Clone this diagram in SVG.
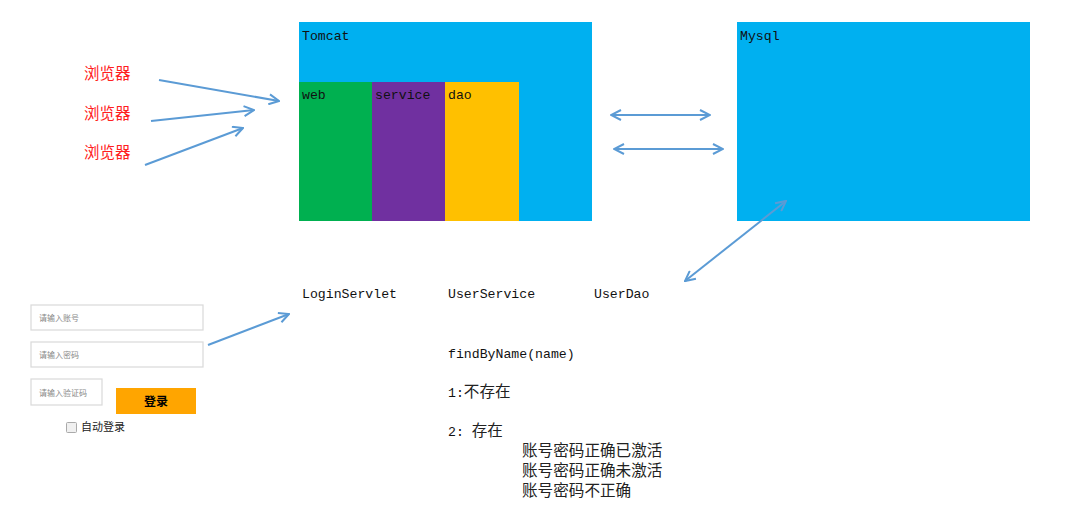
<svg xmlns="http://www.w3.org/2000/svg" width="1077" height="513" viewBox="0 0 1077 513">
<style>
.mono{font-family:"Liberation Mono","Noto Sans CJK SC",monospace;font-size:13.2px;fill:#111}
.cjk{font-family:"Noto Sans CJK SC",sans-serif;font-size:15.6px;fill:#222}
.red{font-family:"Noto Sans CJK SC",sans-serif;font-size:15.5px;fill:#ff2020}
.conn{stroke:#5b9bd5;stroke-width:2;fill:none}
.inp{fill:#fff;stroke:#d9d9d9;stroke-width:1.2}
.ph{font-family:"Noto Sans CJK SC",sans-serif;font-size:8px;fill:#888}
</style>
<defs>
<marker id="ah" viewBox="0 0 12 12" refX="11" refY="6" markerWidth="12" markerHeight="12" markerUnits="userSpaceOnUse" orient="auto-start-reverse">
<path d="M1,1 L11,6 L1,11" fill="none" stroke="#5b9bd5" stroke-width="2"/>
</marker>
</defs>
<rect width="1077" height="513" fill="#fff"/>
<g id="tomcat">
<rect x="299" y="22" width="293" height="199" fill="#00b0f0"/>
<text class="mono" x="302" y="40">Tomcat</text>
</g>
<g id="web">
<rect x="299" y="82" width="73" height="139" fill="#00b050"/>
<text class="mono" x="302" y="99">web</text>
</g>
<g id="service">
<rect x="372" y="82" width="73" height="139" fill="#7030a0"/>
<text class="mono" x="375" y="99">service</text>
</g>
<g id="dao">
<rect x="445" y="82" width="74" height="139" fill="#ffc000"/>
<text class="mono" x="448" y="99">dao</text>
</g>
<g id="mysql">
<rect x="737" y="22" width="293" height="199" fill="#00b0f0"/>
<text class="mono" x="740" y="40">Mysql</text>
</g>
<g id="browsers">
<text class="red" x="84" y="79">浏览器</text>
<text class="red" x="84" y="119">浏览器</text>
<text class="red" x="84" y="158">浏览器</text>
</g>
<g id="labels">
<text class="mono" x="302" y="298">LoginServlet</text>
<text class="mono" x="448" y="298">UserService</text>
<text class="mono" x="594" y="298">UserDao</text>
</g>
<g id="logic">
<text class="mono" x="448" y="358">findByName(name)</text>
<text class="mono" x="448" y="397">1:<tspan class="cjk">不存在</tspan></text>
<text class="mono" x="448" y="436">2: <tspan class="cjk">存在</tspan></text>
<text class="cjk" x="522" y="456">账号密码正确已激活</text>
<text class="cjk" x="522" y="476">账号密码正确未激活</text>
<text class="cjk" x="522" y="496">账号密码不正确</text>
</g>
<g id="loginform">
<rect class="inp" x="31" y="305" width="172" height="25"/>
<text class="ph" x="39" y="321">请输入账号</text>
<rect class="inp" x="31" y="342" width="172" height="25"/>
<text class="ph" x="39" y="358">请输入密码</text>
<rect class="inp" x="31" y="379" width="71" height="26"/>
<text class="ph" x="39" y="396">请输入验证码</text>
<rect x="116" y="388" width="80" height="26" fill="#ffa500"/>
<text x="156" y="406" text-anchor="middle" font-family="Noto Sans CJK SC,sans-serif" font-size="12" font-weight="bold" fill="#000">登录</text>
<rect x="66.5" y="422.5" width="10" height="10" rx="1" fill="#f0f0f0" stroke="#aaa"/>
<text x="81" y="431" font-family="Noto Sans CJK SC,sans-serif" font-size="11" fill="#222">自动登录</text>
</g>
<g id="connectors">
<line class="conn" x1="159" y1="80" x2="279" y2="101" marker-end="url(#ah)"/>
<line class="conn" x1="151" y1="121" x2="254" y2="110" marker-end="url(#ah)"/>
<line class="conn" x1="145" y1="165" x2="243" y2="128" marker-end="url(#ah)"/>
<line class="conn" x1="611" y1="115" x2="710" y2="115" marker-start="url(#ah)" marker-end="url(#ah)"/>
<line class="conn" x1="614" y1="149" x2="723" y2="149" marker-start="url(#ah)" marker-end="url(#ah)"/>
<line class="conn" x1="786" y1="201" x2="685" y2="281" marker-start="url(#ah)" marker-end="url(#ah)"/>
<line class="conn" x1="208" y1="345" x2="289" y2="314" marker-end="url(#ah)"/>
</g>
</svg>
